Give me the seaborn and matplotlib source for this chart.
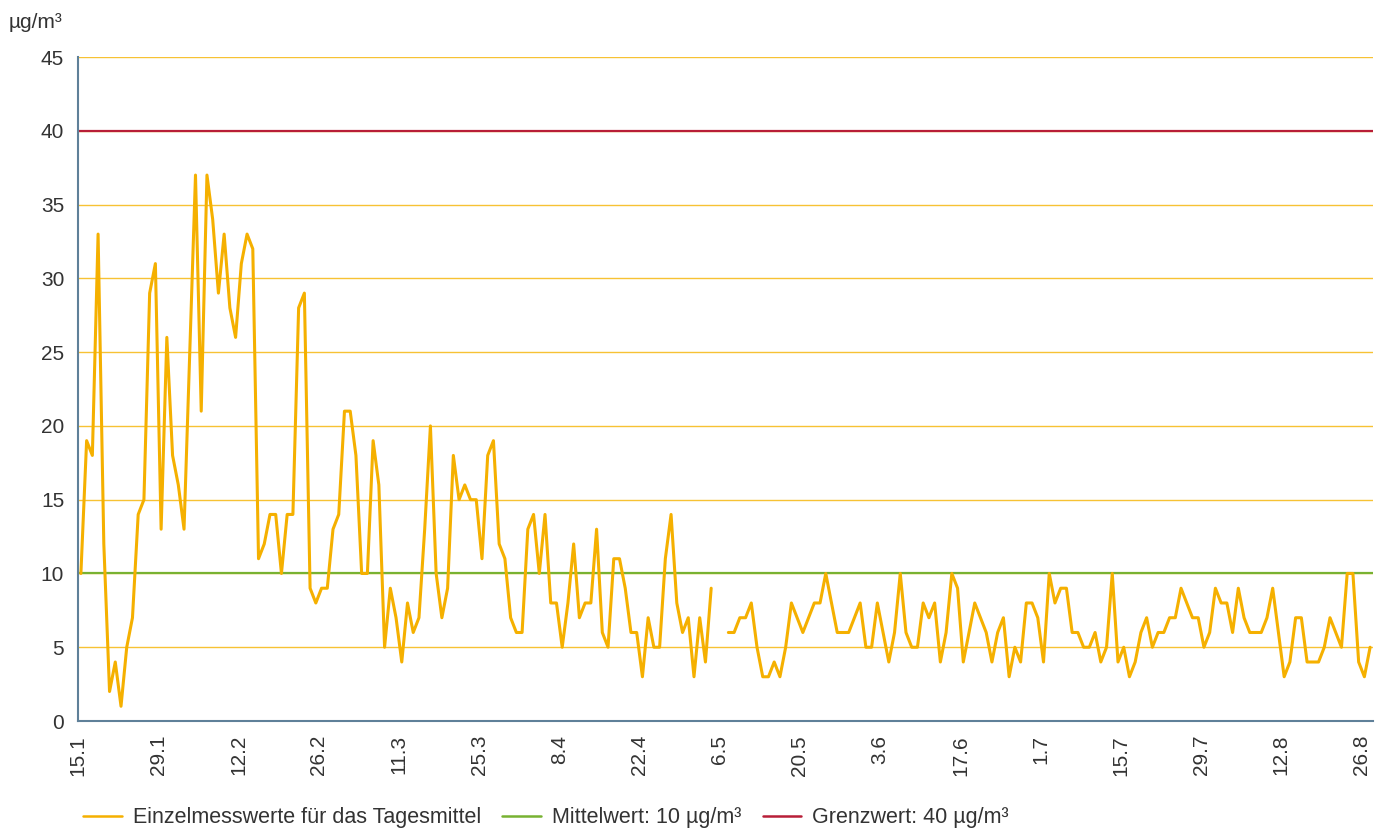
import numpy as np
import pandas as pd
import matplotlib.pyplot as plt
import seaborn as sns
from matplotlib.lines import Line2D

# daily mean values (µg/m³), starting 15.1, two days missing in early May
values = [10, 19, 18, 33, 12, 2, 4, 1, 5, 7, 14, 15, 29, 31, 13, 26, 18, 16, 13, 25,
          37, 21, 37, 34, 29, 33, 28, 26, 31,
          33, 32, 11, 12, 14, 14, 10, 14, 14, 28, 29, 9, 8, 9, 9, 13, 14, 21, 21, 18,
          10, 10, 19, 16, 5, 9, 7, 4, 8,
          6, 7, 13, 20, 10, 7, 9, 18, 15, 16, 15, 15, 11, 18, 19, 12, 11, 7, 6, 6,
          13, 14, 10, 14, 8, 8, 5, 8, 12,
          7, 8, 8, 13, 6, 5, 11, 11, 9, 6, 6, 3, 7, 5, 5, 11, 14, 8, 6, 7, 3, 7, 4, 9,
          np.nan, np.nan, 6,
          6, 7, 7, 8, 5, 3, 3, 4, 3, 5, 8, 7, 6, 7, 8, 8, 10, 8, 6, 6, 6, 7, 8, 5, 5,
          8, 6, 4, 6, 10,
          6, 5, 5, 8, 7, 8, 4, 6, 10, 9, 4, 6, 8, 7, 6, 4, 6, 7, 3, 5, 4, 8, 8, 7, 4,
          10, 8, 9, 9,
          6, 6, 5, 5, 6, 4, 5, 10, 4, 5, 3, 4, 6, 7, 5, 6, 6, 7, 7, 9, 8, 7, 7, 5, 6,
          9, 8, 8, 6,
          9, 7, 6, 6, 6, 7, 9, 6, 3, 4, 7, 7, 4, 4, 4, 5, 7, 6, 5, 10, 10, 4, 3, 5]

tick_labels = ["15.1", "29.1", "12.2", "26.2", "11.3", "25.3", "8.4", "22.4", "6.5",
               "20.5", "3.6", "17.6", "1.7", "15.7", "29.7", "12.8", "26.8"]
tick_step = 14

mean_value = 10
limit_value = 40

c_line = "#F5B000"
c_grid = "#F7C234"
c_mean = "#78B232"
c_limit = "#B81E38"
c_axis = "#5F8099"
c_text = "#333333"

df = pd.DataFrame({"value": values})
df["day"] = np.arange(len(df)) + 0.5
df["seg"] = df["value"].isna().cumsum()
df = df.dropna()

sns.set_style("white")
plt.rcParams["font.family"] = ["Liberation Sans", "DejaVu Sans"]

fig = plt.figure(figsize=(13.86, 8.30), dpi=100)
ax = fig.add_axes([0.0563, 0.1313, 0.9343, 0.8000])

for y in range(5, 50, 5):
    ax.axhline(y, color=c_grid, lw=1.0, zorder=1)
ax.axhline(mean_value, color=c_mean, lw=1.6, zorder=2)
ax.axhline(limit_value, color=c_limit, lw=1.6, zorder=2)

sns.lineplot(data=df, x="day", y="value", units="seg", estimator=None,
             color=c_line, lw=2.2, ax=ax, zorder=3, legend=False)

ax.set_xlim(0, len(values))
ax.set_ylim(0, 45)
ax.set_xticks(np.arange(len(tick_labels)) * tick_step)
ax.set_xticklabels(tick_labels, rotation=90, fontsize=15, color=c_text)
ax.set_yticks(range(0, 50, 5))
ax.set_yticklabels([str(v) for v in range(0, 50, 5)], fontsize=15, color=c_text)
ax.tick_params(axis="both", length=6, width=1.2, color=c_axis, pad=4)
ax.set_xlabel("")
ax.set_ylabel("")

for s in ["top", "right"]:
    ax.spines[s].set_visible(False)
for s in ["left", "bottom"]:
    ax.spines[s].set_color(c_axis)
    ax.spines[s].set_linewidth(1.5)

fig.text(0.006, 0.973, "µg/m³", fontsize=15, color=c_text, va="center", ha="left")

handles = [Line2D([], [], color=c_line, lw=1.8),
           Line2D([], [], color=c_mean, lw=1.8),
           Line2D([], [], color=c_limit, lw=1.8)]
labels = ["Einzelmesswerte für das Tagesmittel", "Mittelwert: 10 µg/m³",
          "Grenzwert: 40 µg/m³"]
fig.legend(handles, labels, loc="lower left", bbox_to_anchor=(0.046, -0.021),
           ncol=3, frameon=False, fontsize=15.5, handlelength=1.8,
           handletextpad=0.5, columnspacing=1.0, labelcolor=c_text)

fig.savefig("out.png", dpi=100)
